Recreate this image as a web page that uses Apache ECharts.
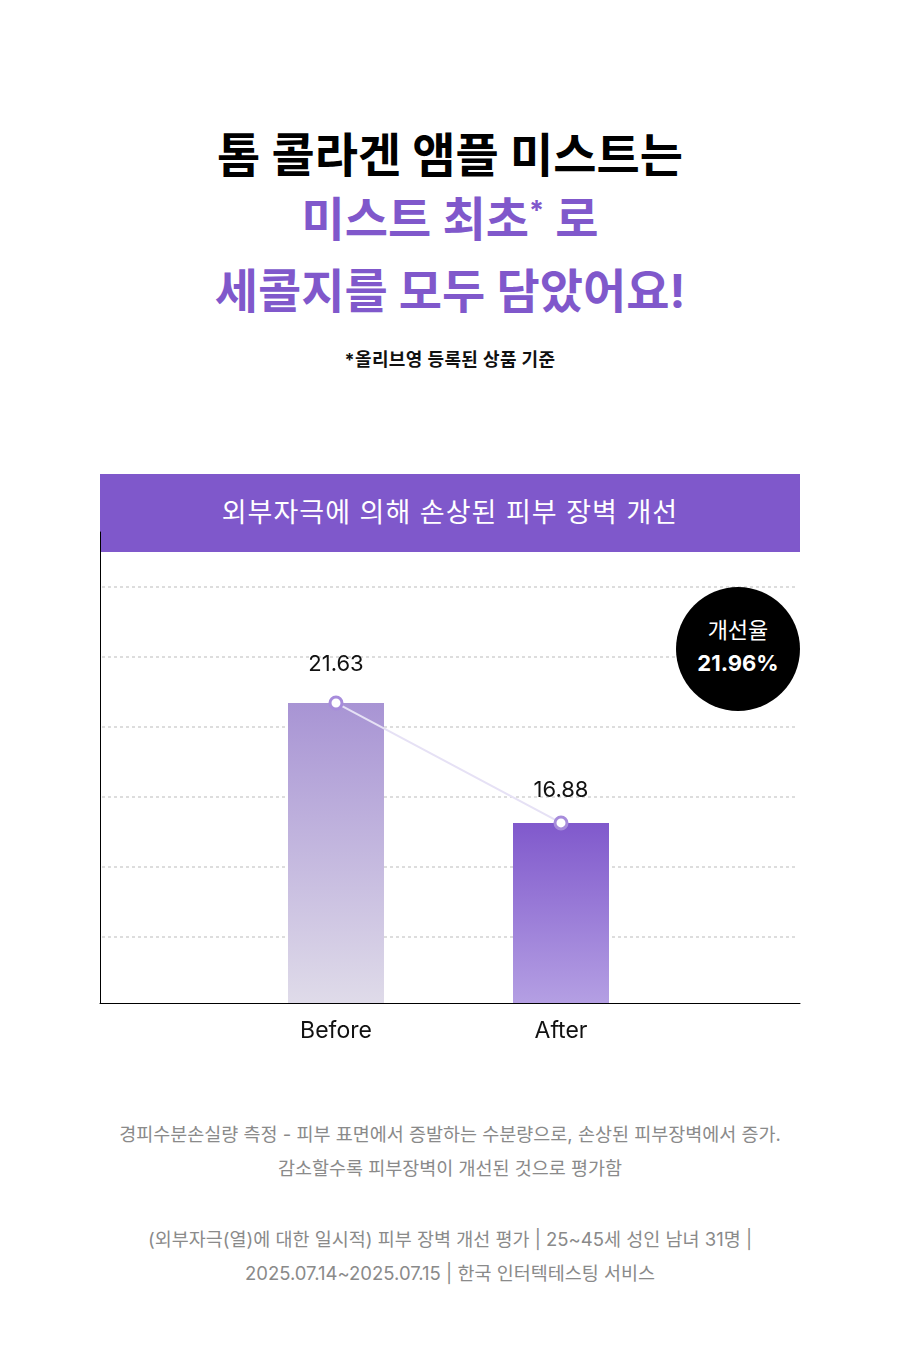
<!DOCTYPE html>
<html lang="ko">
<head>
<meta charset="UTF-8">
<script src="https://cdn.jsdelivr.net/npm/echarts@6/dist/echarts.min.js"></script>
<title>피부 장벽 개선</title>
<style>
    body { margin: 0; background: #fff; }
    #page { position: relative; width: 900px; height: 1364px; overflow: hidden;
            font-family: Inter, "Noto Sans CJK KR", sans-serif; }
    .c { position: absolute; left: 0; width: 900px; text-align: center; }
    .headline { top: 123px; font-size: 47px; line-height: 64px; font-weight: 700; color: #000; }
    .purple { color: #8058cb; }
    .headline sup { font-size: 27px; vertical-align: 0; position: relative; top: -16px; }
    .note { top: 348px; font-size: 18px; line-height: 24px; font-weight: 700; color: #111; letter-spacing: 0.4px; }
    #bandTitle { position: absolute; left: 100px; top: 474px; width: 700px; height: 78px;
                 background: #7f58cb; color: #fff; font-size: 27px; line-height: 78px;
                 text-align: center; z-index: 0; letter-spacing: 1px; }
    #chart { position: absolute; left: 0; top: 0; width: 900px; height: 1364px; z-index: 1; }
    #badge { position: absolute; left: 676px; top: 587px; width: 124px; height: 124px; border-radius: 50%;
             background: #000; color: #fff; text-align: center; z-index: 2; }
    #badge .t1 { position: absolute; top: 30px; width: 100%; font-size: 22px; line-height: 26px; }
    #badge .t2 { position: absolute; top: 63px; width: 100%; font-size: 22px; line-height: 26px; font-weight: 700; }
    .foot { font-size: 18.5px; line-height: 34px; color: #8a8a8a; }
</style>
</head>
<body>
<div id="page">
    <div class="c headline">
        톰 콜라겐 앰플 미스트는<br>
        <span class="purple">미스트 최초<sup>*</sup> 로</span><br>
        <span class="purple">세콜지를 모두 담았어요!</span>
    </div>
    <div class="c note">*올리브영 등록된 상품 기준</div>

    <div id="bandTitle">외부자극에 의해 손상된 피부 장벽 개선</div>
    <div id="chart"></div>
    <div id="badge"><div class="t1">개선율</div><div class="t2">21.96%</div></div>

    <div class="c foot" style="top:1117px;">경피수분손실량 측정 - 피부 표면에서 증발하는 수분량으로, 손상된 피부장벽에서 증가.<br>감소할수록 피부장벽이 개선된 것으로 평가함</div>
    <div class="c foot" style="top:1222px;">(외부자극(열)에 대한 일시적) 피부 장벽 개선 평가 | 25~45세 성인 남녀 31명 |<br>2025.07.14~2025.07.15 | 한국 인터텍테스팅 서비스</div>
</div>

<script>
    // 데이터
    const categories = ['Before', 'After'];
    const tewl = [21.63, 16.88];

    // 막대 그라데이션 (위 -> 아래)
    const barColors = [
        ['#a894d4', '#dfdbe9'],
        ['#8059cc', '#b49fe3']
    ];
    // 값 라벨과 점 사이 간격
    const labelGap = [20, 14];

    function grad(pair) {
        return new echarts.graphic.LinearGradient(0, 0, 0, 1, [
            { offset: 0, color: pair[0] },
            { offset: 1, color: pair[1] }
        ]);
    }

    const hidden = { show: false };
    const chart = echarts.init(document.getElementById('chart'));
    chart.setOption({
        animation: false,
        textStyle: { fontFamily: 'Inter, "Noto Sans CJK KR", sans-serif' },
        grid: [
            // 축 테두리
            { left: 100, right: 100, top: 532, bottom: 361 },
            // 점선 격자
            { left: 102, right: 105, top: 587, bottom: 357 },
            // 데이터
            { left: 223.5, right: 226.5, top: 532, bottom: 361 }
        ],
        xAxis: [
            { gridIndex: 0, type: 'value', min: 0, max: 1,
              axisLine: { show: true, onZero: false, lineStyle: { color: '#000', width: 1 } },
              axisTick: hidden, axisLabel: hidden, splitLine: hidden },
            { gridIndex: 1, type: 'value', min: 0, max: 1, show: false },
            { gridIndex: 2, type: 'category', data: categories,
              axisLine: hidden, axisTick: hidden,
              axisLabel: { fontSize: 23, color: '#111', margin: 17 } }
        ],
        yAxis: [
            { gridIndex: 0, type: 'value', min: 0, max: 1,
              axisLine: { show: true, lineStyle: { color: '#000', width: 1 } },
              axisTick: hidden, axisLabel: hidden, splitLine: hidden },
            { gridIndex: 1, type: 'value', min: 0, max: 420, interval: 70,
              axisLine: hidden, axisTick: hidden, axisLabel: hidden,
              splitLine: { show: true, showMinLine: false,
                           lineStyle: { color: '#d2d2d2', width: 1.5, type: [3, 3] } } },
            { gridIndex: 2, type: 'value', min: 9.75, max: 28.4, show: false }
        ],
        series: [
            {
                type: 'bar',
                xAxisIndex: 2, yAxisIndex: 2,
                barWidth: 96,
                data: tewl.map((v, i) => ({ value: v, itemStyle: { color: grad(barColors[i]) } })),
                z: 2
            },
            {
                type: 'line',
                xAxisIndex: 2, yAxisIndex: 2,
                data: tewl.map((v, i) => ({ value: v, label: { distance: labelGap[i] } })),
                symbol: 'circle',
                symbolSize: 12,
                lineStyle: { color: '#e6e1f5', width: 2 },
                itemStyle: { color: '#fff', borderColor: '#a78cdb', borderWidth: 3 },
                label: { show: true, position: 'top', fontSize: 22, color: '#111' },
                z: 3
            }
        ]
    });
</script>
</body>
</html>
